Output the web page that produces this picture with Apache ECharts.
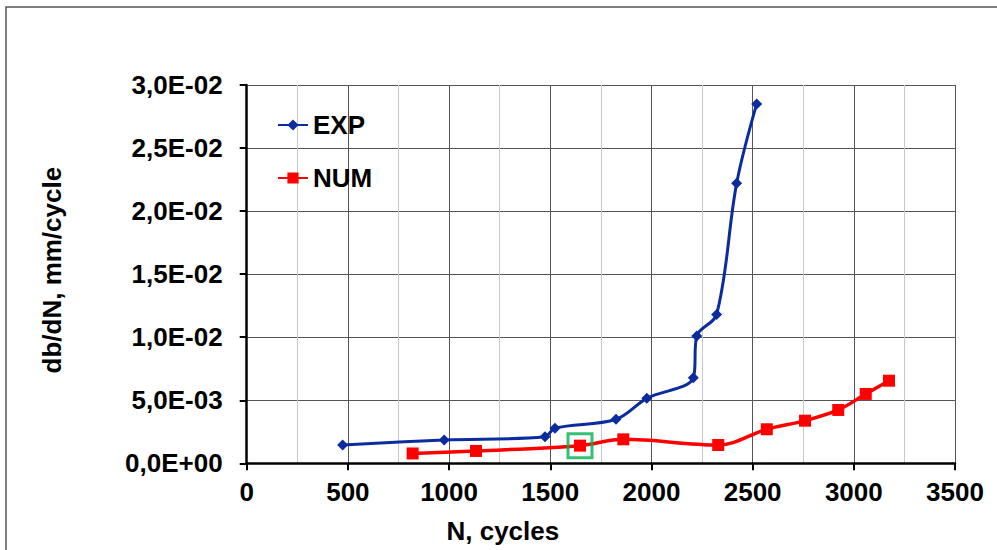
<!DOCTYPE html>
<html>
<head>
<meta charset="utf-8">
<script src="https://cdn.jsdelivr.net/npm/echarts@6/dist/echarts.min.js"></script>
<style>
html,body{margin:0;padding:0;background:#fff;}
#chart{width:997px;height:550px;}
</style>
</head>
<body>
<div id="chart"></div>
<script>
// ---- data ----
var seriesNames = ['EXP', 'NUM'];
var expN   = [474, 976, 1474, 1523, 1825, 1977, 2207, 2224, 2322, 2421, 2520];
var expVal = [1.45e-3, 1.85e-3, 2.11e-3, 2.78e-3, 3.49e-3, 5.15e-3, 6.79e-3, 1.01e-2, 1.18e-2, 2.22e-2, 2.85e-2];
var numN   = [820, 1133, 1647, 1861, 2330, 2570, 2759, 2923, 3059, 3174];
var numVal = [7.8e-4, 9.8e-4, 1.40e-3, 1.90e-3, 1.45e-3, 2.70e-3, 3.38e-3, 4.23e-3, 5.50e-3, 6.55e-3];
var highlightN = [1647];
var highlightVal = [1.40e-3];
var xTitle = 'N, cycles';
var yTitle = 'db/dN, mm/cycle';

function pairs(xs, ys) { return xs.map(function (x, i) { return [x, ys[i]]; }); }

function sciComma(v) {
  if (Math.abs(v) < 1e-15) return '0,0E+00';
  var e = Math.floor(Math.log10(Math.abs(v)) + 1e-9);
  var m = v / Math.pow(10, e);
  var ms = m.toFixed(1).replace('.', ',');
  var sign = e < 0 ? '-' : '+';
  var ae = Math.abs(e);
  return ms + 'E' + sign + (ae < 10 ? '0' + ae : '' + ae);
}

var FONT = "'Liberation Sans', Arial, sans-serif";
var chart = echarts.init(document.getElementById('chart'), null, {renderer: 'svg'});
chart.setOption({
  backgroundColor: '#ffffff',
  animation: false,
  graphic: [{
    type: 'rect',
    shape: {x: 6, y: 7, width: 1000, height: 600},
    style: {fill: 'none', stroke: '#555555', lineWidth: 1.5},
    silent: true, z: -10
  }],
  grid: {left: 246.7, right: 42, top: 85, bottom: 86.7, containLabel: false},
  legend: {
    data: seriesNames,
    orient: 'vertical',
    left: 277, top: 111, padding: 0,
    itemWidth: 30, itemHeight: 14, itemGap: 25,
    textStyle: {fontFamily: FONT, fontSize: 26, fontWeight: 'bold', color: '#000', lineHeight: 28}
  },
  xAxis: {
    type: 'value', min: 0, max: 3500, interval: 500,
    name: xTitle, nameLocation: 'middle', nameGap: 55,
    nameTextStyle: {fontFamily: FONT, fontSize: 26, fontWeight: 'bold', color: '#000', padding: [0, 196, 0, 0]},
    axisLine: {show: true, onZero: false, lineStyle: {color: '#000', width: 2.5}},
    axisTick: {show: true, inside: false, length: 7, lineStyle: {color: '#000', width: 2}},
    axisLabel: {fontFamily: FONT, fontSize: 26, fontWeight: 'bold', color: '#000', margin: 16,
      formatter: function (v) { return String(v); }},
    splitLine: {show: true, lineStyle: {color: '#555', width: 1}},
    minorTick: {show: false, splitNumber: 2},
    minorSplitLine: {show: true, lineStyle: {color: '#c8c8c8', width: 1}}
  },
  yAxis: {
    type: 'value', min: 0, max: 0.03, interval: 0.005,
    name: yTitle, nameLocation: 'middle', nameGap: 182,
    nameTextStyle: {fontFamily: FONT, fontSize: 26, fontWeight: 'bold', color: '#000', padding: [0, 0, 0, 8]},
    axisLine: {show: true, onZero: false, lineStyle: {color: '#000', width: 2.5}},
    axisTick: {show: true, inside: false, length: 7, lineStyle: {color: '#000', width: 2}},
    axisLabel: {fontFamily: FONT, fontSize: 26, fontWeight: 'bold', color: '#000', margin: 24, formatter: sciComma},
    splitLine: {show: true, lineStyle: {color: '#555', width: 1}}
  },
  series: [
    {
      name: 'EXP', type: 'line', data: pairs(expN, expVal),
      smooth: 0.35, symbol: 'diamond', symbolSize: 11,
      lineStyle: {color: '#0b2c9e', width: 3},
      itemStyle: {color: '#0b2c9e'}, z: 3
    },
    {
      name: 'NUM', type: 'line', data: pairs(numN, numVal),
      smooth: 0.35, symbol: 'rect', symbolSize: 12,
      lineStyle: {color: '#ff0000', width: 3.5},
      itemStyle: {color: '#ff0000'}, z: 3
    },
    {
      name: 'highlight', type: 'scatter', data: pairs(highlightN, highlightVal),
      symbol: 'rect', symbolSize: 24,
      itemStyle: {color: 'rgba(0,0,0,0)', borderColor: '#00b050', borderWidth: 3},
      silent: true, z: 4
    }
  ]
});
</script>
</body>
</html>
